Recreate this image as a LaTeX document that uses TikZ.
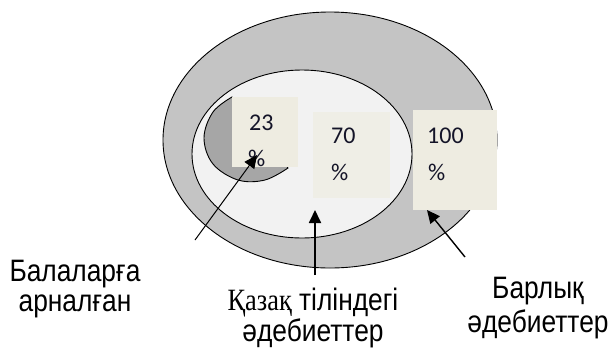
\documentclass[tikz,border=0pt]{standalone}
\usepackage{fontspec}
\setmainfont{Liberation Sans}
\newfontfamily\lblsans[FakeStretch=0.85]{Liberation Sans}
\newfontfamily\lblserif[FakeStretch=0.85]{Liberation Serif}
\newfontfamily\numfont{Carlito}
\usetikzlibrary{arrows.meta,shapes.geometric}
\definecolor{ringgray}{HTML}{C4C4C4}
\definecolor{innergray}{HTML}{F2F2F2}
\definecolor{moongray}{HTML}{A6A6A6}
\definecolor{boxbeige}{HTML}{EEECE1}
\definecolor{boxfaint}{HTML}{EFEEE6}
\definecolor{numcol}{HTML}{141428}
\tikzset{
  ringshape/.style={ellipse, draw=black, line width=0.9pt, inner sep=0pt},
  pbox/.style={rectangle, fill=boxbeige, inner sep=0pt, anchor=north west},
  numtext/.style={font=\fontsize{24}{24}\numfont, text=numcol, inner sep=0pt, anchor=base west},
  lbl/.style={font=\fontsize{31}{31}\lblsans, inner sep=0pt, align=center, anchor=north},
  headtip/.tip={Triangle[length=13pt,width=12pt]},
}
\begin{document}
\begin{tikzpicture}[x=1pt,y=-1pt]
\useasboundingbox (0,0) rectangle (614,349);
\fill[white] (0,0) rectangle (614,349);
% rings
\node[ringshape, fill=ringgray, minimum width=334pt, minimum height=256pt] (outer) at (330,140) {};
\node[ringshape, fill=innergray, minimum width=220pt, minimum height=168pt] (inner) at (302,154) {};
% crescent
\filldraw[fill=moongray, draw=black, line width=0.9pt]
  plot[smooth, tension=0.6] coordinates {(232,97) (213,112) (204,138) (213,164) (238,180) (265,180) (288,168)} -- cycle;
% boxes
\node[pbox, minimum width=66pt, minimum height=70pt] (b23) at (232,97) {};
\node[pbox, fill=boxfaint, minimum width=77pt, minimum height=86pt] (b70) at (313,112) {};
\node[pbox, minimum width=84pt, minimum height=100pt] (b100) at (413,110) {};
% numbers
\node[numtext] (n23) at (249,130) {23};
\node[numtext] (p23) at (248,166) {\%};
\node[numtext] (n70) at (331,143) {70};
\node[numtext] (p70) at (331,180) {\%};
\node[numtext] (n100) at (427,143) {100};
\node[numtext] (p100) at (428,180) {\%};
% labels
\node[lbl, font=\fontsize{31}{30}\lblsans] (lblA) at (75,260) {Балаларға\\арналған};
\node[lbl, font=\fontsize{31}{28}\lblsans] (lblB) at (313,288) {{\lblserif Қазақ} тілiндегі\\әдебиеттер};
\node[lbl, font=\fontsize{31}{34}\lblsans] (lblC) at (538,277) {Барлық\\әдебиеттер};
% arrows
\coordinate (a1s) at (195,240);
\coordinate (a1e) at (257,155);
\coordinate (a2s) at (315,275);
\coordinate (a2e) at (315,210);
\coordinate (a3s) at (465,257);
\coordinate (a3e) at (427,210);
\draw[-headtip, line width=1pt] (a1s) -- (a1e);
\draw[-headtip, line width=1.8pt] (a2s) -- (a2e);
\draw[-headtip, line width=1.4pt] (a3s) -- (a3e);
\end{tikzpicture}
\end{document}
